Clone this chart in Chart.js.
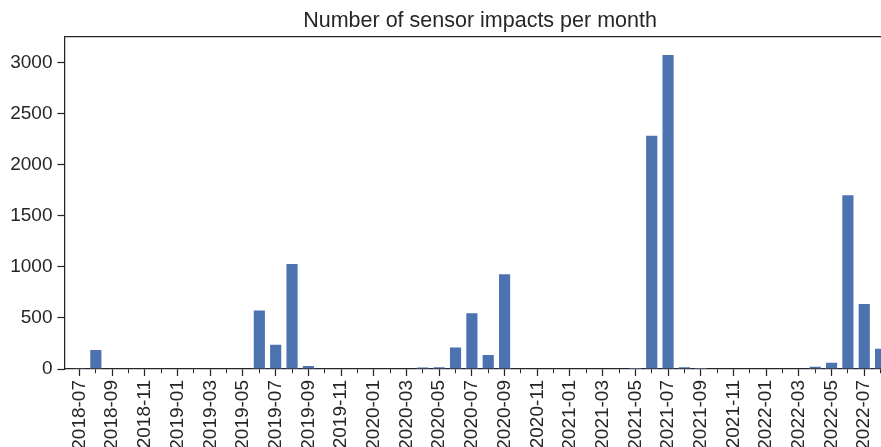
<!DOCTYPE html>
<html>
<head>
<meta charset="utf-8">
<script src="https://cdn.jsdelivr.net/npm/chart.js@4/dist/chart.umd.min.js"></script>
<style>
  html, body { margin: 0; padding: 0; background: #ffffff; overflow: hidden; width: 881px; height: 447px; }
  #wrap { position: relative; width: 900px; height: 447px; }
  canvas { display: block; }
</style>
</head>
<body>
<div id="wrap"><canvas id="c" width="900" height="447"></canvas></div>
<script>
// ---- data ----
const months = [
  "2018-07","2018-08","2018-09","2018-10","2018-11","2018-12",
  "2019-01","2019-02","2019-03","2019-04","2019-05","2019-06",
  "2019-07","2019-08","2019-09","2019-10","2019-11","2019-12",
  "2020-01","2020-02","2020-03","2020-04","2020-05","2020-06",
  "2020-07","2020-08","2020-09","2020-10","2020-11","2020-12",
  "2021-01","2021-02","2021-03","2021-04","2021-05","2021-06",
  "2021-07","2021-08","2021-09","2021-10","2021-11","2021-12",
  "2022-01","2022-02","2022-03","2022-04","2022-05","2022-06",
  "2022-07","2022-08"
];
const impacts = [
  5, 192, 0, 0, 0, 0,
  0, 0, 0, 0, 0, 580,
  245, 1034, 35, 0, 0, 0,
  0, 0, 0, 20, 22, 216,
  552, 143, 935, 0, 0, 0,
  0, 0, 0, 0, 4, 2292,
  3082, 22, 6, 0, 0, 0,
  0, 0, 0, 29, 68, 1709,
  643, 206
];
const yTicks = [0, 500, 1000, 1500, 2000, 2500, 3000];
const chartTitle = "Number of sensor impacts per month";

// ---- chart ----
const ink = '#262626';
const fontFamily = '"Liberation Sans", Arial, Helvetica, sans-serif';
const points = months.map((m, i) => ({ x: i, y: impacts[i] }));
const isMajor = (ctx) => !ctx.tick || Math.round(ctx.tick.value) % 2 === 0;
const noPad = (s) => { s.paddingLeft = 0; s.paddingRight = 0; s.paddingTop = 0; s.paddingBottom = 0; };

new Chart(document.getElementById('c'), {
  type: 'bar',
  data: {
    datasets: [{
      data: points,
      backgroundColor: '#4c72b0',
      borderColor: 'rgba(255,255,255,0.55)',
      borderWidth: 1,
      borderSkipped: 'bottom',
      barThickness: 12.5
    }]
  },
  options: {
    responsive: false,
    animation: false,
    devicePixelRatio: 1,
    layout: { padding: { left: 0, right: 4.4, top: 0, bottom: 0 } },
    plugins: {
      legend: { display: false },
      tooltip: { enabled: false },
      title: {
        display: true,
        fullSize: false,
        text: chartTitle,
        color: ink,
        font: { family: fontFamily, size: 21.5, weight: 'normal' },
        padding: { top: 8.5, bottom: 2.7 }
      }
    },
    scales: {
      x: {
        type: 'linear',
        position: 'bottom',
        offset: false,
        min: -0.917,
        max: 49.917,
        afterFit: (s) => { s.height = 78; noPad(s); },
        border: { display: true, color: ink, width: 1.25 },
        grid: {
          display: true,
          offset: false,
          drawOnChartArea: false,
          drawTicks: true,
          tickLength: 7,
          tickColor: ink,
          tickWidth: (ctx) => (isMajor(ctx) ? 1.25 : 1),
          tickBorderDash: (ctx) => (isMajor(ctx) ? [] : [4, 100])
        },
        ticks: {
          stepSize: 1,
          includeBounds: false,
          autoSkip: false,
          minRotation: 90,
          maxRotation: 90,
          padding: 4,
          color: ink,
          font: { family: fontFamily, size: 19 },
          callback: (v) => {
            const i = Math.round(v);
            return (i % 2 === 0 && i >= 0 && i < months.length) ? months[i] : '';
          }
        }
      },
      xTop: {
        type: 'linear',
        position: 'top',
        min: 0,
        max: 1,
        afterFit: (s) => { s.height = 0; noPad(s); },
        border: { display: true, color: ink, width: 1.25 },
        grid: { display: false },
        ticks: { display: false }
      },
      y: {
        type: 'linear',
        position: 'left',
        min: 0,
        max: 3252,
        afterFit: (s) => { s.width = 64.5; noPad(s); },
        afterBuildTicks: (s) => { s.ticks = yTicks.map(v => ({ value: v })); },
        border: { display: true, color: ink, width: 1.25 },
        grid: {
          display: true,
          drawOnChartArea: false,
          drawTicks: true,
          tickLength: 7,
          tickColor: ink,
          tickWidth: 1.25
        },
        ticks: {
          includeBounds: false,
          padding: 5,
          color: ink,
          font: { family: fontFamily, size: 19 },
          callback: (v) => String(v)
        }
      }
    }
  }
});
</script>
</body>
</html>
